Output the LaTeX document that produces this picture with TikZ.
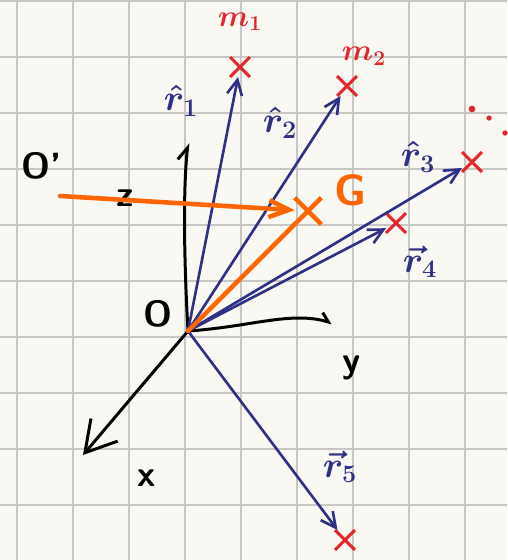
\documentclass[tikz,border=0pt]{standalone}
\usepackage{amsmath,amssymb}
\usepackage{xcolor}
\usepackage{tikz}
\usetikzlibrary{arrows.meta,positioning,calc,shapes.misc}
\definecolor{paper}{HTML}{FAF8F3}
\definecolor{gridgray}{HTML}{C9C7C3}
\definecolor{inkblue}{HTML}{2E3185}
\definecolor{inkred}{HTML}{E3262B}
\definecolor{inkorange}{HTML}{FF6600}
\tikzset{
	axis/.style={black, line width=1.7pt, line cap=round},
	vecarrow/.style={-{Straight Barb[length=3mm, width=3mm]}, inkblue, line width=1.5pt},
	mass/.style={draw=inkred, cross out, line width=1.7pt, minimum size=3.4mm, inner sep=0pt},
	inklabel/.style={font=\sffamily\bfseries\huge},
	veclabel/.style={text=inkblue, font=\fontsize{22}{24}\selectfont\boldmath},
	masslabel/.style={text=inkred, font=\LARGE\boldmath}
}

\begin{document}
\begin{tikzpicture}[x=0.02cm, y=-0.02cm,
			gridline/.style={gridgray, line width=0.9pt}
			]
			
			%% -- squared paper
			\fill[paper] (0,0) rectangle (507,560);
			\useasboundingbox (0,0) rectangle (507,560);
			\foreach \gx in {17,73,...,465}
			\draw[gridline] (\gx,0) -- (\gx,560);
			\foreach \gy in {1,57,...,505}
			\draw[gridline] (0,\gy) -- (507,\gy);
			
			%% -- origin and axes
			\coordinate (O) at (188,331);
			\coordinate (zend) at (188,143);
			\coordinate (yend) at (332,323);
			\coordinate (xend) at (83,455);
			
			\draw[axis, -{Straight Barb[harpoon, length=2.5mm, width=3.4mm]}]
			(O) .. controls (184,260) and (183,190) .. (zend);
			\draw[axis, -{Straight Barb[harpoon, length=1.6mm, width=3mm]}]
			(O) .. controls (250,327) and (290,311) .. (yend);
			\draw[axis, -{Straight Barb[length=6mm, width=7mm]}] (O) -- (xend);
			
			\node[inklabel] (Olab) at (158,314) {O};
			\node[inklabel] (zlab) at (125,198) {z};
			\node[inklabel] (ylab) at (352,368) {y};
			\node[inklabel] (xlab) at (147,478) {x};
			
			%% -- point masses
			\node[mass] (m1) at (240,67) {};
			\node[mass] (m2) at (347,86) {};
			\node[mass] (m3) at (472,162) {};
			\node[mass] (m4) at (396,223) {};
			\node[mass] (m5) at (345,540) {};
			
			\node[masslabel, above=4mm of m1] (m1lab) {$m_1$};
			\node[masslabel] (m2lab) at (364,56) {$m_2$};
			\foreach \dx/\dy/\dr in {472/109/1.9pt, 489/118/1.5pt, 505/133/1.5pt}
			\fill[inkred] (\dx,\dy) circle (\dr);
			
			%% -- position vectors
			\draw[vecarrow] (O) -- (m1);
			\draw[vecarrow] (O) -- (m2);
			\draw[vecarrow] (O) -- (m3);
			\draw[vecarrow] (O) -- (m4);
			\draw[vecarrow] (O) -- (m5);
			
			\node[veclabel] (r1lab) at (181,101) {$\hat{r}_1$};
			\node[veclabel] (r2lab) at (280,123) {$\hat{r}_2$};
			\node[veclabel] (r3lab) at (418,157) {$\hat{r}_3$};
			\node[veclabel] (r4lab) at (420,262) {$\vec{r}_4$};
			\node[veclabel] (r5lab) at (340,467) {$\vec{r}_5$};
			
			%% -- centre of mass
			\node[mass, draw=inkorange, line width=2.6pt, minimum size=4.4mm] (G) at (308,211) {};
			\node[inklabel, text=inkorange, font=\sffamily\bfseries\Huge] (Glab) at (351,190) {G};
			\draw[inkorange, line width=2.6pt, line cap=round] (O) -- (G);
			
			\coordinate (Oprime) at (60,196);
			\node[inklabel] (Oplab) at (42,166) {O'};
			\draw[inkorange, line width=2.6pt, line cap=round,
			-{Straight Barb[length=4mm, width=3.4mm]}] (Oprime) -- (G);
			
		\end{tikzpicture}
\end{document}
